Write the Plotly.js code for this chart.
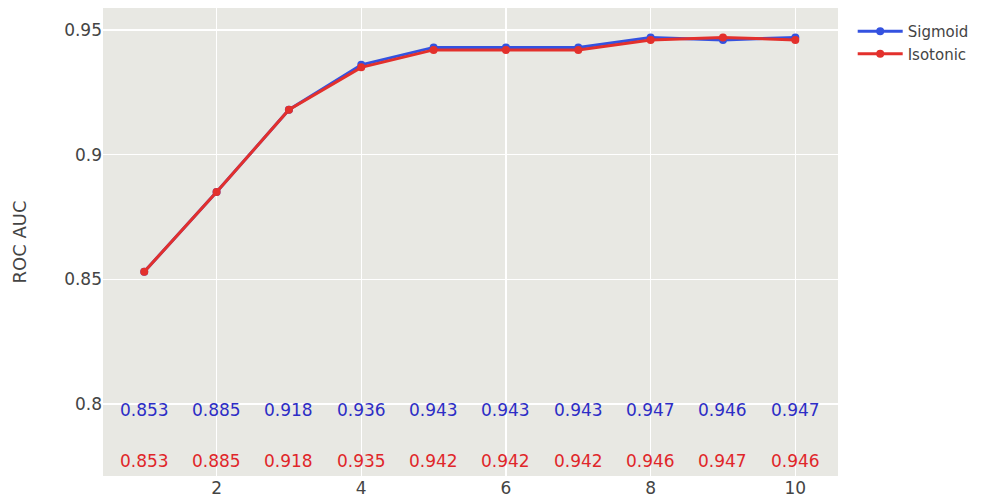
<!DOCTYPE html>
<html>
<head>
<meta charset="utf-8">
<script src="https://cdn.plot.ly/plotly-3.0.1.min.js"></script>
<style>html,body{margin:0;padding:0;background:#fff;}#chart{width:993px;height:499px;}</style>
</head>
<body>
<div id="chart"></div>
<script>
var nBins = [1, 2, 3, 4, 5, 6, 7, 8, 9, 10];
var sigmoidAUC = [0.853, 0.885, 0.918, 0.936, 0.943, 0.943, 0.943, 0.947, 0.946, 0.947];
var isotonicAUC = [0.853, 0.885, 0.918, 0.935, 0.942, 0.942, 0.942, 0.946, 0.947, 0.946];
var seriesNames = ['Sigmoid', 'Isotonic'];
var xTickVals = [2, 4, 6, 8, 10];
var yTickVals = [0.8, 0.85, 0.9, 0.95];
var yTickText = ['0.8', '0.85', '0.9', '0.95'];

var blueLine = '#3452e0';
var redLine = '#e3302c';
var blueText = '#2d2dc6';
var redText = '#e0262a';
var font = 'DejaVu Sans, sans-serif';

var traces = [
  {x: nBins, y: sigmoidAUC, name: seriesNames[0], mode: 'lines+markers',
   line: {color: blueLine, width: 3}, marker: {color: blueLine, size: 8}},
  {x: nBins, y: isotonicAUC, name: seriesNames[1], mode: 'lines+markers',
   line: {color: redLine, width: 3}, marker: {color: redLine, size: 8}}
];

var annotations = [];
nBins.forEach(function (b, i) {
  annotations.push({x: b, y: 0.7975, xref: 'x', yref: 'y', showarrow: false,
    text: sigmoidAUC[i].toFixed(3), font: {family: font, size: 17, color: blueText}});
  annotations.push({x: b, y: 0.777, xref: 'x', yref: 'y', showarrow: false,
    text: isotonicAUC[i].toFixed(3), font: {family: font, size: 17, color: redText}});
});

var layout = {
  width: 993, height: 499,
  margin: {l: 103, r: 155, t: 8, b: 23},
  paper_bgcolor: '#ffffff',
  plot_bgcolor: '#e8e8e3',
  font: {family: font, size: 17, color: '#444'},
  showlegend: true,
  legend: {x: 1.02, y: 0.985, xanchor: 'left', yanchor: 'top', itemwidth: 45, tracegroupgap: 0,
           font: {family: font, size: 15, color: '#444'}},
  xaxis: {range: [0.43, 10.59], tickvals: xTickVals, gridcolor: '#ffffff', gridwidth: 1.5,
          zeroline: false, showline: false, ticks: '', tickfont: {family: font, size: 17, color: '#444'}},
  yaxis: {range: [0.7711, 0.9588], tickvals: yTickVals, ticktext: yTickText, gridcolor: '#ffffff', gridwidth: 1.5,
          zeroline: false, showline: false, ticks: '', tickfont: {family: font, size: 17, color: '#444'},
          title: {text: 'ROC AUC', font: {family: font, size: 18, color: '#444'}, standoff: 32}},
  annotations: annotations
};

Plotly.newPlot('chart', traces, layout, {displayModeBar: false, staticPlot: true});
</script>
</body>
</html>
